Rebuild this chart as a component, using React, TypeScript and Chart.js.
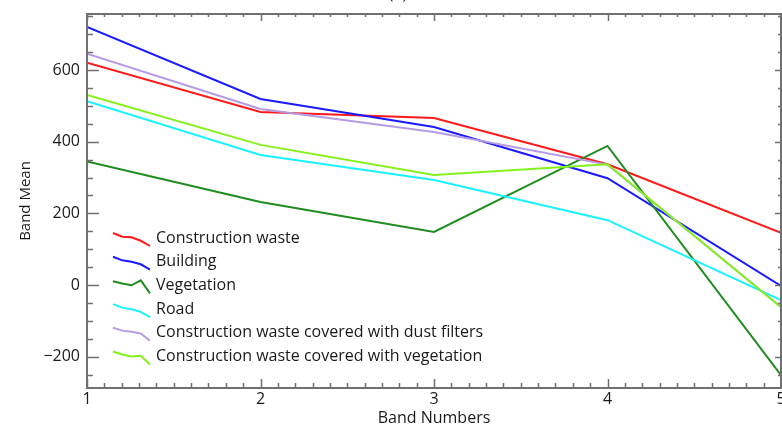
import React, { useEffect, useRef } from "react";
import { Chart, registerables } from "chart.js";

Chart.register(...registerables);

const bandNumbers = [1, 2, 3, 4, 5];
const constructionWaste = [620, 483, 466, 337, 146];
const building = [720, 519, 441, 298, -2];
const vegetation = [345, 232, 148, 388, -251];
const road = [513, 363, 293, 181, -42];
const dustFilters = [645, 491, 427, 336, -61];
const coveredVegetation = [530, 391, 307, 337, -62];

const seriesNames = [
  "Construction waste",
  "Building",
  "Vegetation",
  "Road",
  "Construction waste covered with dust filters",
  "Construction waste covered with vegetation",
];
const seriesValues = [constructionWaste, building, vegetation, road, dustFilters, coveredVegetation];
const seriesColors = ["#ff1a1a", "#1a1aff", "#1f8c1f", "#1af2ff", "#b59be3", "#84f21a"];
const yMajorTicks = [-200, 0, 200, 400, 600];
const xMajorTicks = [1, 2, 3, 4, 5];

const FONT = "'Open Sans', 'DejaVu Sans', sans-serif";
const TEXT = "#1a1a1a";

const framePlugin = {
  id: "frameTicks",
  afterDatasetsDraw(chart: any) {
    const { ctx, chartArea, scales } = chart;
    const { left, right, top, bottom } = chartArea;
    const x = scales.x;
    const y = scales.y;
    ctx.save();
    ctx.strokeStyle = "#707070";
    ctx.lineWidth = 1.5;
    ctx.beginPath();
    for (let v = Math.ceil(y.min / 50) * 50; v <= y.max; v += 50) {
      const major = v % 200 === 0;
      const py = Math.round(y.getPixelForValue(v)) + 0.5;
      ctx.moveTo(left, py);
      ctx.lineTo(left + (major ? 12 : 6), py);
      ctx.moveTo(right, py);
      ctx.lineTo(right - (major ? 6 : 3), py);
    }
    for (let i = 10; i <= 50; i++) {
      const major = i % 10 === 0;
      const px = Math.round(x.getPixelForValue(i / 10)) + 0.5;
      ctx.moveTo(px, bottom);
      ctx.lineTo(px, bottom - (major ? 9 : 5));
      ctx.moveTo(px, top);
      ctx.lineTo(px, top + (major ? 7 : 3));
    }
    ctx.stroke();
    ctx.lineWidth = 2;
    ctx.strokeRect(left, top, right - left, bottom - top);

    // legend with mini sample curves derived from the data
    const rowStart = 250;
    const rowGap = 23.7;
    const sx0 = 113;
    const sx1 = 150;
    ctx.font = `16px ${FONT}`;
    ctx.textBaseline = "middle";
    ctx.textAlign = "left";
    chart.data.datasets.forEach((ds: any, i: number) => {
      const cy = rowStart + i * rowGap;
      const vals = ds.data.map((p: any) => p.y);
      const mn = Math.min(...vals);
      const mx = Math.max(...vals);
      ctx.strokeStyle = ds.borderColor;
      ctx.lineWidth = 2;
      ctx.beginPath();
      vals.forEach((v: number, k: number) => {
        const px = sx0 + ((sx1 - sx0) * k) / (vals.length - 1);
        const py = cy - 5 + ((mx - v) / (mx - mn || 1)) * 13;
        if (k === 0) ctx.moveTo(px, py);
        else ctx.lineTo(px, py);
      });
      ctx.stroke();
      ctx.fillStyle = TEXT;
      ctx.fillText(ds.label, 156, cy);
    });

    // partially clipped panel title
    ctx.fillStyle = TEXT;
    ctx.textAlign = "center";
    ctx.textBaseline = "alphabetic";
    ctx.font = `16px ${FONT}`;
    ctx.fillText("(a)", 398, 11);
    ctx.restore();
  },
};

export default function App() {
  const ref = useRef<HTMLCanvasElement>(null);
  useEffect(() => {
    if (!ref.current) return;
    const chart = new Chart(ref.current, {
      type: "line",
      data: {
        datasets: seriesNames.map((name, i) => ({
          label: name,
          data: bandNumbers.map((b, k) => ({ x: b, y: seriesValues[i][k] })),
          borderColor: seriesColors[i],
          backgroundColor: seriesColors[i],
          borderWidth: 2,
          pointRadius: 0,
          tension: 0,
          order: seriesNames.length - i,
        })),
      },
      options: {
        animation: false,
        responsive: true,
        maintainAspectRatio: false,
        layout: { padding: { top: 26, right: 1, left: 0, bottom: 0 } },
        plugins: { legend: { display: false }, tooltip: { enabled: false }, title: { display: false } },
        scales: {
          x: {
            type: "linear",
            min: 1,
            max: 5,
            grid: { display: false, drawTicks: false },
            border: { display: false },
            afterBuildTicks: (s: any) => {
              s.ticks = xMajorTicks.map((v) => ({ value: v }));
            },
            afterFit: (s: any) => {
              s.height = 40;
              s.paddingLeft = 0;
              s.paddingRight = 0;
            },
            ticks: {
              padding: 2,
              color: TEXT,
              font: { family: FONT, size: 16 },
              maxRotation: 0,
              autoSkip: false,
            },
            title: {
              display: true,
              text: "Band Numbers",
              color: TEXT,
              font: { family: FONT, size: 16 },
              padding: { top: 0, bottom: 0 },
            },
          },
          y: {
            min: -287,
            max: 756,
            grid: { display: false, drawTicks: false },
            border: { display: false },
            afterBuildTicks: (s: any) => {
              s.ticks = yMajorTicks.map((v) => ({ value: v }));
            },
            afterFit: (s: any) => {
              s.width = 87;
              s.paddingTop = 0;
              s.paddingBottom = 0;
            },
            ticks: {
              padding: 7,
              color: TEXT,
              font: { family: FONT, size: 16 },
              callback: (v: any) => (v < 0 ? "\u2212" + Math.abs(v) : String(v)),
            },
            title: {
              display: true,
              text: "Band Mean",
              color: TEXT,
              font: { family: FONT, size: 15 },
              padding: { top: 17, bottom: 0 },
            },
          },
        },
      },
      plugins: [framePlugin],
    } as any);
    return () => chart.destroy();
  }, []);
  return (
    <div style={{ position: "fixed", left: 0, top: -12, width: 782, height: 440, background: "#fff" }}>
      <canvas ref={ref} />
    </div>
  );
}
